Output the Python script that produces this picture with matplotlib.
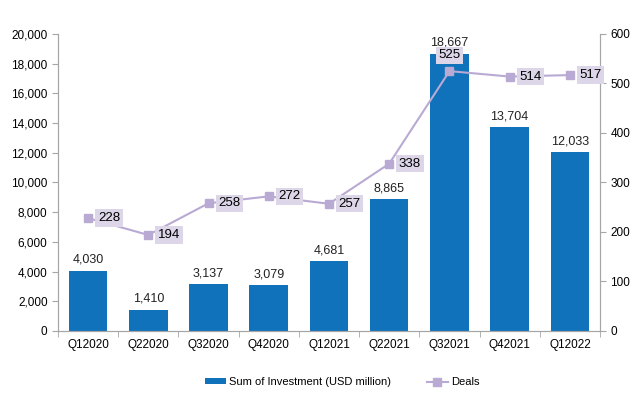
import matplotlib.pyplot as plt
from matplotlib.ticker import FuncFormatter, MultipleLocator

plt.rcParams['font.family'] = ['Liberation Sans', 'DejaVu Sans']

# Date
trimestre = ['Q12020', 'Q22020', 'Q32020', 'Q42020', 'Q12021',
             'Q22021', 'Q32021', 'Q42021', 'Q12022']
investitii = [4030, 1410, 3137, 3079, 4681, 8865, 18667, 13704, 12033]
tranzactii = [228, 194, 258, 272, 257, 338, 525, 514, 517]

culoare_bara = '#0f72ba'
culoare_linie = '#b9aad3'
culoare_eticheta = '#ddd5e8'
culoare_axa = '#a6a6a6'

fig = plt.figure(figsize=(6.4, 3.93), dpi=100)
ax1 = fig.add_axes([0.0906, 0.1578, 0.8469, 0.7557])
ax2 = ax1.twinx()

x = list(range(len(trimestre)))
bare = ax1.bar(x, investitii, width=0.64, color=culoare_bara,
               label='Sum of Investment (USD million)', zorder=2)
for xi, v in zip(x, investitii):
    ax1.text(xi, v + 350, f'{v:,}', ha='center', va='bottom', fontsize=9, color='#222222')

ax1.set_xlim(-0.5, len(trimestre) - 0.5)
ax1.set_ylim(0, 20000)
ax1.yaxis.set_major_locator(MultipleLocator(2000))
ax1.yaxis.set_major_formatter(FuncFormatter(lambda v, p: f'{int(v):,}'))
ax1.set_xticks(x)
ax1.set_xticklabels(trimestre)
ax1.set_xticks([i - 0.5 for i in range(len(trimestre) + 1)], minor=True)
ax1.tick_params(axis='x', which='major', length=0, pad=6, labelsize=8.5)
ax1.tick_params(axis='x', which='minor', length=4, color=culoare_axa)
ax1.tick_params(axis='y', length=4, color=culoare_axa, labelsize=8.5)

linie, = ax2.plot(x, tranzactii, color=culoare_linie, linewidth=1.5, marker='s',
                  markersize=6, label='Deals', zorder=3)
ax2.set_ylim(0, 600)
ax2.yaxis.set_major_locator(MultipleLocator(100))
ax2.tick_params(axis='y', length=4, color=culoare_axa, labelsize=8.5)
ax2.set_zorder(ax1.get_zorder() + 1)
ax2.patch.set_visible(False)

for i, (xi, v) in enumerate(zip(x, tranzactii)):
    if v == 525:
        ax2.annotate(str(v), (xi, v), xytext=(0, 7), textcoords='offset points',
                     ha='center', va='bottom', fontsize=9.5,
                     bbox=dict(boxstyle='square,pad=0.2', fc=culoare_eticheta, ec='none'))
    else:
        ax2.annotate(str(v), (xi, v), xytext=(7, 0), textcoords='offset points',
                     ha='left', va='center', fontsize=9.5,
                     bbox=dict(boxstyle='square,pad=0.2', fc=culoare_eticheta, ec='none'))

for ax in (ax1, ax2):
    ax.spines['top'].set_visible(False)
    for s in ('left', 'right', 'bottom'):
        ax.spines[s].set_color(culoare_axa)

fig.legend([bare, linie], ['Sum of Investment (USD million)', 'Deals'],
           loc='center', bbox_to_anchor=(0.535, 0.028), ncol=2, frameon=False,
           fontsize=8, handlelength=1.9, handleheight=0.4, handletextpad=0.3,
           columnspacing=3.2, borderpad=0)

fig.savefig('out.png', dpi=100)
